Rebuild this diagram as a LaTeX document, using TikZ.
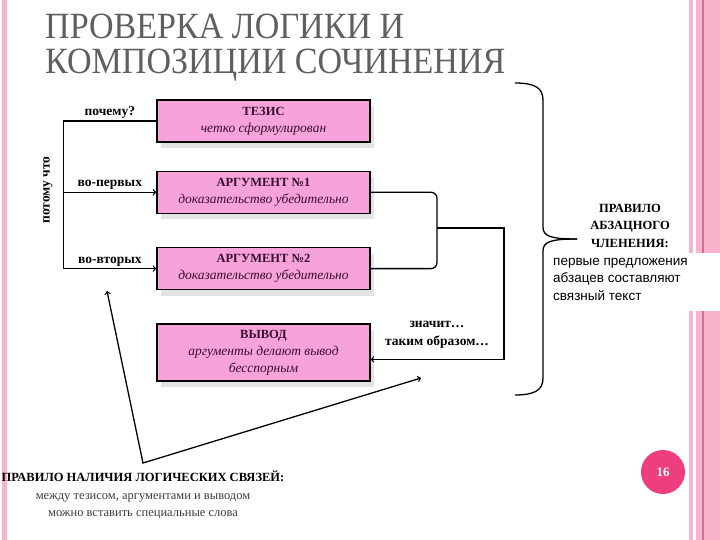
\documentclass[tikz,border=0pt]{standalone}
\usepackage{fontspec}
\setmainfont{Liberation Serif}
\setsansfont{Liberation Sans}
\newfontfamily\titlefont[FakeStretch=0.92]{Liberation Serif}
\usetikzlibrary{positioning,shadows}

\definecolor{boxpink}{RGB}{248,162,220}
\definecolor{boxtext}{RGB}{55,15,45}
\definecolor{stripe}{RGB}{247,180,204}
\definecolor{darkstripe}{RGB}{222,105,145}
\definecolor{numpink}{RGB}{238,62,128}
\definecolor{titlegray}{RGB}{95,95,95}
\definecolor{notegray}{RGB}{60,60,60}

\begin{document}
\begin{tikzpicture}[x=1pt,y=1pt]

    % Styles
    \tikzstyle{block} = [rectangle, minimum width=213pt, minimum height=42pt, align=center, draw=black, line width=1.3pt, fill=boxpink, text=boxtext, font=\fontsize{12.5}{17}\selectfont, drop shadow={opacity=0.22, shadow xshift=4pt, shadow yshift=-6pt}]
    \tikzstyle{link} = [line width=1.3pt]
    \tikzstyle{arrow} = [line width=1.3pt,->,>=to]
    \tikzset{lbl/.style={font=\fontsize{13.5}{18}\selectfont\bfseries, inner sep=2pt}}
    \tikzset{ruletext/.style={font=\fontsize{12.5}{17.5}\selectfont\bfseries, align=center, inner sep=0pt}}

    % Page
    \useasboundingbox (0,0) rectangle (720,-540);
    \fill [stripe] (2,0) rectangle (7,-540);
    \fill [stripe] (689,0) rectangle (693,-540);
    \fill [stripe] (696,0) rectangle (720,-540);
    \fill [darkstripe] (702,0) rectangle (703.5,-540);

    % Title
    \node (title) [anchor=north west, align=left, inner sep=0pt, text=titlegray, font=\titlefont\fontsize{37}{35}\selectfont] at (45,-14) {ПРОВЕРКА ЛОГИКИ И\\КОМПОЗИЦИИ СОЧИНЕНИЯ};

    % Nodes
    \node (tezis) [block] at (263.5,-121) {\textbf{ТЕЗИС}\\\textit{\fontsize{13.5}{17}\selectfont четко сформулирован}};
    \node (arg1) [block, below=28pt of tezis] {\textbf{АРГУМЕНТ №1}\\\textit{\fontsize{13.5}{17}\selectfont доказательство убедительно}};
    \node (arg2) [block, below=33pt of arg1] {\textbf{АРГУМЕНТ №2}\\\textit{\fontsize{13.5}{17}\selectfont доказательство убедительно}};
    \node (vyvod) [block, minimum height=57pt, below=33pt of arg2] {\textbf{ВЫВОД}\\\textit{\fontsize{13.5}{17}\selectfont аргументы делают вывод}\\\textit{\fontsize{13.5}{17}\selectfont бесспорным}};

    \node (because) [lbl, rotate=90] at (48,-190) {потому что};
    \coordinate (spine) at ([xshift=-93pt]tezis.west);
    \coordinate (join) at (437,-228);
    \node (znachit) [lbl, align=center] at (437,-335) {значит…\\таким образом…};

    % Arrows
    \draw [link] (tezis.west) -- node [lbl, above] {почему?} (spine);
    \draw [arrow] (spine |- arg1.west) -- node [lbl, above] {во-первых} (arg1.west);
    \draw [arrow] (spine) |- node [lbl, above, pos=0.75] {во-вторых} (arg2.west);
    \draw [link, rounded corners=6pt] (arg1.east) -| (join) |- (arg2.east);
    \draw [arrow] (join) -- ++(67,0) |- ([yshift=-7pt]vyvod.east);

    \coordinate (backtip) at (107,-291);
    \coordinate (corner) at (143,-463);
    \coordinate (fwdtip) at (421,-378);
    \draw [arrow, <->] (backtip) -- (corner) -- (fwdtip);

    % Brace
    \coordinate (btop) at (515,-83);
    \coordinate (bbot) at (515,-395);
    \coordinate (btip) at (577,-239);
    \draw [link] (btop) .. controls (535,-83) and (543,-88) .. (543,-100) -- (543,-227) .. controls (543,-236) and (550,-239) .. (btip);
    \draw [link] (bbot) .. controls (535,-395) and (543,-390) .. (543,-378) -- (543,-251) .. controls (543,-242) and (550,-239) .. (btip);

    % Rules
    \node (absatz) [ruletext, anchor=north] at (630,-204) {ПРАВИЛО\\АБЗАЦНОГО\\ЧЛЕНЕНИЯ:};
    \fill [white] (548,-253) rectangle (720,-311);
    \node (first) [anchor=north west, align=left, inner sep=0pt, font=\sffamily\fontsize{13.5}{17.5}\selectfont] at (553,-258) {первые предложения\\абзацев составляют\\связный текст};
    \node (logic) [ruletext] at (143,-495) {ПРАВИЛО НАЛИЧИЯ ЛОГИЧЕСКИХ СВЯЗЕЙ:\\{\mdseries\color{notegray}между тезисом, аргументами и выводом}\\{\mdseries\color{notegray}можно вставить специальные слова}};

    % Page number
    \node (page) [circle, fill=numpink, minimum size=44pt, text=white, font=\bfseries\fontsize{13}{13}\selectfont] at (663,-472) {16};
\end{tikzpicture}
\end{document}
